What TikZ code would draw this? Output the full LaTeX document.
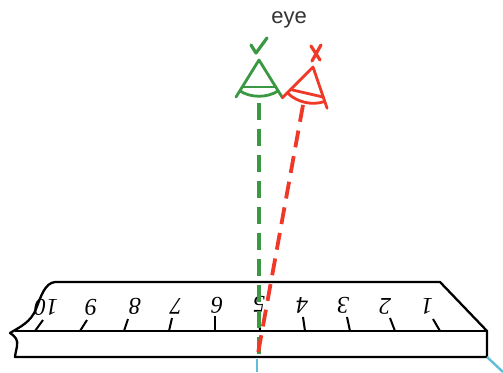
\documentclass[tikz,border=0pt]{standalone}
\usepackage{fontspec}
\setmainfont{Liberation Serif}
\newfontfamily\labelfont{Liberation Sans}
\begin{document}
\begin{tikzpicture}[x=1pt,y=-1pt,
  rulerline/.style={line width=2.3pt,line join=round},
  tickline/.style={line width=2pt},
  digit/.style={rotate=180,font=\fontsize{24}{24}\selectfont\itshape,inner sep=0pt},
  eyeline/.style={line width=2.8pt,line join=round,line cap=round},
  sightline/.style={line width=3.8pt,dash pattern=on 17pt off 9pt},
  markline/.style={line width=3.2pt,line cap=round,line join=round},
  guide/.style={line width=2.4pt,color=guideblue},
  eyecone/.pic={
    \draw[eyeline] (-23,37) -- (0,0) -- (23,37);
    \draw[eyeline] (-17,27) -- (17,27);
    \draw[eyeline] (-19,31) .. controls (-8,38) and (8,38) .. (19,31);
  }]
\definecolor{eyegreen}{RGB}{58,152,66}
\definecolor{eyered}{RGB}{240,56,40}
\definecolor{guideblue}{RGB}{96,190,214}
\useasboundingbox (0,0) rectangle (503,372);

% ruler body: top face, broken left end, front face
\draw[rulerline] (440,282) -- (55,282)
  .. controls (45,283) and (41,296) .. (36,309)
  .. controls (31,322) and (20,327) .. (10,333)
  .. controls (16,337) and (18,340) .. (17,346)
  .. controls (16,352) and (15,355) .. (15,357)
  -- (487,357) -- (487,331) -- cycle;
\draw[rulerline] (15,331) -- (487,331);

% graduation ticks and upside-down numbers
\foreach \n/\bx/\tx/\ty/\lx/\ly in {
  10/35/43/320/46/307, 9/80/87/320/91/307, 8/124/128/319/135/306,
  7/169/172/318/176/306, 6/215/215/316/217/305, 5/260/259/317/259/304,
  4/305/303/317/302/305, 3/350/347/317/343/305, 2/395/390/318/385/306,
  1/440/433/319/427/306} {
  \draw[tickline] (\bx,331) -- (\tx,\ty);
  \node[digit] (num\n) at (\lx,\ly) {\n};
}

% the two eyes and their marks
\node[font=\labelfont\fontsize{22}{22}\selectfont,text=black!80] (eyelabel) at (289,20) {eye};
\pic[color=eyegreen] at (259,60) {eyecone};
\pic[color=eyered,rotate=-13] at (313,67) {eyecone};
\draw[markline,eyegreen] (251,45) -- (256,53) -- (267,38);
\draw[markline,eyered] (311,46) -- (320,60) (321,45) -- (312,61);

% lines of sight
\coordinate (greeneye) at (259,103);
\coordinate (redeye) at (303,105);
\coordinate (gaze) at (257,359);
\draw[sightline,eyegreen] (greeneye) -- (259,359);
\draw[sightline,eyered] (redeye) -- (gaze);

% construction lines below the ruler
\coordinate (corner) at (487,357);
\draw[guide] (gaze) -- (257,372);
\draw[guide] (corner) -- (503,372);
\end{tikzpicture}
\end{document}
